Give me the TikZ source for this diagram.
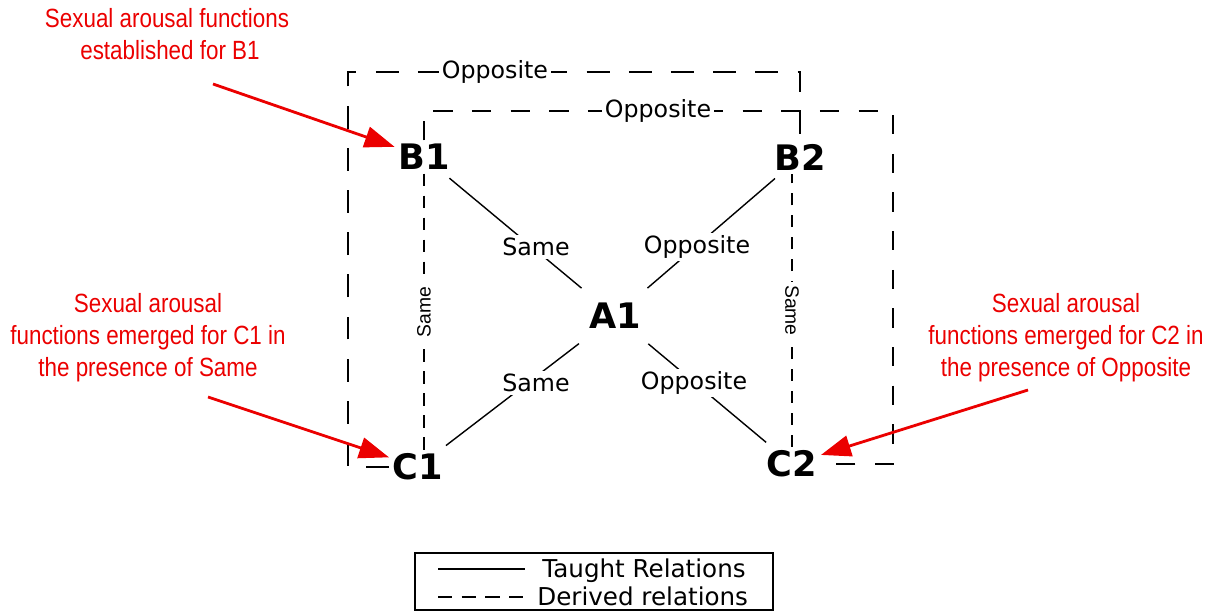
\documentclass[tikz,border=0pt]{standalone}
\usepackage{fontspec}
\setmainfont{DejaVu Sans}
\newfontfamily\redfont[FakeStretch=0.85]{Liberation Sans}
\newfontfamily\arialfont{Liberation Sans}
\usetikzlibrary{arrows.meta}
\definecolor{annot}{RGB}{235,0,0}
\begin{document}
\begin{tikzpicture}[x=0.02cm,y=-0.02cm,
  letter/.style={font=\bfseries\fontsize{20}{24}\selectfont, inner sep=2pt},
  lab/.style={font=\fontsize{13.5}{16}\selectfont, fill=white, inner sep=1.5pt},
  vlab/.style={font=\arialfont\fontsize{11}{13}\selectfont, fill=white, inner sep=2pt},
  taught/.style={line width=0.8pt, shorten <=4pt, shorten >=4pt},
  derived/.style={line width=1.2pt},
  longdash/.style={derived, dash pattern=on 13pt off 11pt},
  middash/.style={derived, dash pattern=on 11pt off 11pt},
  shortdash/.style={derived, dash pattern=on 7pt off 5.5pt},
  redtxt/.style={font=\redfont\fontsize{15}{19}\selectfont, text=annot, inner sep=0pt, anchor=base},
  redarrow/.style={draw=annot, line width=1.6pt, -{Triangle[length=17pt,width=12pt]}},
  legtxt/.style={font=\fontsize{14}{16}\selectfont, anchor=base west, inner sep=0pt}
]
\useasboundingbox (0,0) rectangle (1212,611);

% main nodes
\node[letter] (B1) at (424,157) {B1};
\node[letter] (B2) at (800,157) {B2};
\node[letter, outer sep=4pt] (A1) at (615,316) {A1};
\node[letter] (C1) at (418,467) {C1};
\node[letter] (C2) at (792,464) {C2};

% taught relations
\draw[taught] (B1) -- (A1);
\draw[taught] (A1) -- (B2);
\draw[taught] (A1) -- (C1);
\draw[taught] (A1) -- (C2);
\node[lab] (lB1A1) at (536,247) {Same};
\node[lab] (lA1B2) at (697,247) {Opposite};
\node[lab] (lA1C1) at (536,383) {Same};
\node[lab] (lA1C2) at (694,383) {Opposite};

% derived relations
\draw[longdash] (C1.west) -| (348,72) -| (B2.north);
\node[lab] (lOuter) at (495,72) {Opposite};
\draw[middash] (B1.north) |- (893,111) |- (C2.east);
\node[lab] (lInner) at (658,111) {Opposite};
\draw[shortdash] (B1.south) -- (B1.south |- C1.north)
  node[vlab, midway, rotate=90] (lB1C1) {Same};
\draw[shortdash] (C2.north) -- (C2.north |- B2.south)
  node[vlab, midway, rotate=-90] (lB2C2) {Same};

% red annotations
\node[redtxt] (r1a) at (167,28) {Sexual arousal functions};
\node[redtxt] (r1b) at (170,60) {established for B1};
\coordinate (s1) at (213,84);
\draw[redarrow] (s1) -- (B1);

\node[redtxt] (r2a) at (148,312) {Sexual arousal};
\node[redtxt] (r2b) at (148,344) {functions emerged for C1 in};
\node[redtxt] (r2c) at (148,376) {the presence of Same};
\coordinate (s2) at (208,397);
\draw[redarrow] (s2) -- (C1);

\node[redtxt] (r3a) at (1066,312) {Sexual arousal};
\node[redtxt] (r3b) at (1066,344) {functions emerged for C2 in};
\node[redtxt] (r3c) at (1066,376) {the presence of Opposite};
\coordinate (s3) at (1028,390);
\draw[redarrow] (s3) -- (C2);

% legend
\draw[line width=1.2pt] (415,553) rectangle (773,610);
\draw[line width=0.8pt] (438,569) -- (525,569);
\draw[line width=1.2pt, dash pattern=on 8pt off 5.5pt] (438,597) -- (525,597);
\node[legtxt] (lt) at (542,577) {Taught Relations};
\node[legtxt] (ld) at (537,605) {Derived relations};
\end{tikzpicture}
\end{document}
